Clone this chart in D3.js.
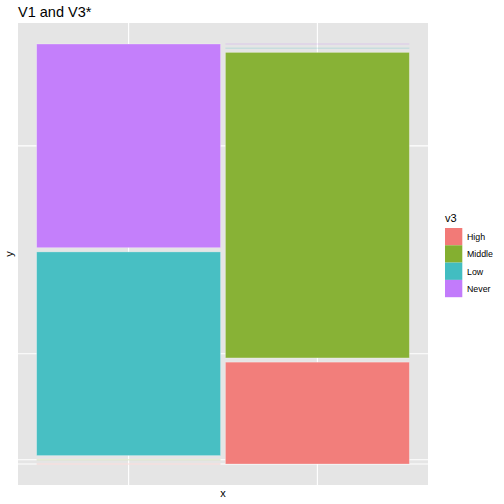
<!DOCTYPE html>
<html><head><meta charset="utf-8">
<script src="https://cdn.jsdelivr.net/npm/d3@7"></script>
<style>body{margin:0;background:#fff;} text{font-family:"Liberation Sans",Arial,sans-serif;}</style>
</head><body>
<svg id="c" width="504" height="504"></svg>
<script>
// Data
const v1Levels = ["A", "B"];
const v3Levels = ["High", "Middle", "Low", "Never"];
const v3Colors = ["#F27A77", "#84AF30", "#42BDC1", "#C27BFB"];
// counts per v1 level, in v3Levels order
const countsA = [0, 0, 50, 50];
const countsB = [25, 75, 0, 0];
const colTotals = [100, 100];

const panel = {l: 18, r: 428, t: 23, b: 485};
const svg = d3.select("#c");
const x = d3.scaleLinear().domain([-0.05, 1.05]).range([panel.l, panel.r]);
const y = d3.scaleLinear().domain([-0.05, 1.05]).range([panel.b, panel.t]);
const gx = 0.013, gy = 0.01;

// build tiles
const counts = [countsA, countsB];
const grand = d3.sum(colTotals);
let tiles = [];
let xs = 0;
const colCenters = [];
counts.forEach((cs, i) => {
  const w = colTotals[i] / grand * (1 - gx * (counts.length - 1));
  const tot = d3.sum(cs);
  let ys = 0;
  cs.forEach((c, j) => {
    const h = c / tot * (1 - gy * (cs.length - 1));
    tiles.push({col: i, cat: j, x0: xs, x1: xs + w, y0: ys, y1: ys + h});
    ys += h + gy;
  });
  colCenters.push(xs + w / 2);
  xs += w + gx;
});
const yBreaks = tiles.filter(t => t.col === 0).map(t => (t.y0 + t.y1) / 2);

// panel background
svg.append("rect").attr("x", panel.l).attr("y", panel.t).attr("width", panel.r - panel.l).attr("height", panel.b - panel.t).attr("fill", "#E5E5E5");
const g = svg.append("g");
colCenters.forEach(v => g.append("line").attr("x1", x(v)).attr("x2", x(v)).attr("y1", panel.t).attr("y2", panel.b).attr("stroke", "#fff").attr("stroke-width", 1.1));
yBreaks.forEach(v => g.append("line").attr("y1", y(v)).attr("y2", y(v)).attr("x1", panel.l).attr("x2", panel.r).attr("stroke", "#fff").attr("stroke-width", 1.1));

// tiles
tiles.forEach(t => {
  if (t.y1 - t.y0 > 1e-9) {
    svg.append("rect").attr("x", x(t.x0)).attr("y", y(t.y1)).attr("width", x(t.x1) - x(t.x0)).attr("height", y(t.y0) - y(t.y1))
      .attr("fill", v3Colors[t.cat]).attr("fill-opacity", 0.97).attr("stroke", "#fff").attr("stroke-opacity", 0.35).attr("stroke-width", 0.8);
  } else {
    svg.append("line").attr("x1", x(t.x0)).attr("x2", x(t.x1)).attr("y1", y(t.y0)).attr("y2", y(t.y0))
      .attr("stroke", v3Colors[t.cat]).attr("stroke-opacity", 0.18).attr("stroke-width", 1.5);
  }
});

// title & axis titles
svg.append("text").attr("x", 18).attr("y", 17).attr("font-size", 14.5).attr("fill", "#000").text("V1 and V3*");
svg.append("text").attr("x", (panel.l + panel.r) / 2).attr("y", 497).attr("text-anchor", "middle").attr("font-size", 11).attr("fill", "#000").text("x");
svg.append("text").attr("transform", `translate(13,${(panel.t + panel.b) / 2}) rotate(-90)`).attr("text-anchor", "middle").attr("font-size", 11).attr("fill", "#000").text("y");

// legend
const lg = svg.append("g").attr("transform", "translate(445,222)");
lg.append("text").attr("x", 0).attr("y", 0).attr("font-size", 11).text("v3");
v3Levels.forEach((lv, i) => {
  lg.append("rect").attr("x", 0).attr("y", 6 + i * 17.3).attr("width", 17.3).attr("height", 17.3).attr("fill", v3Colors[i]);
  lg.append("text").attr("x", 22).attr("y", 6 + i * 17.3 + 12).attr("font-size", 8.8).text(lv);
});
</script>
</body></html>
